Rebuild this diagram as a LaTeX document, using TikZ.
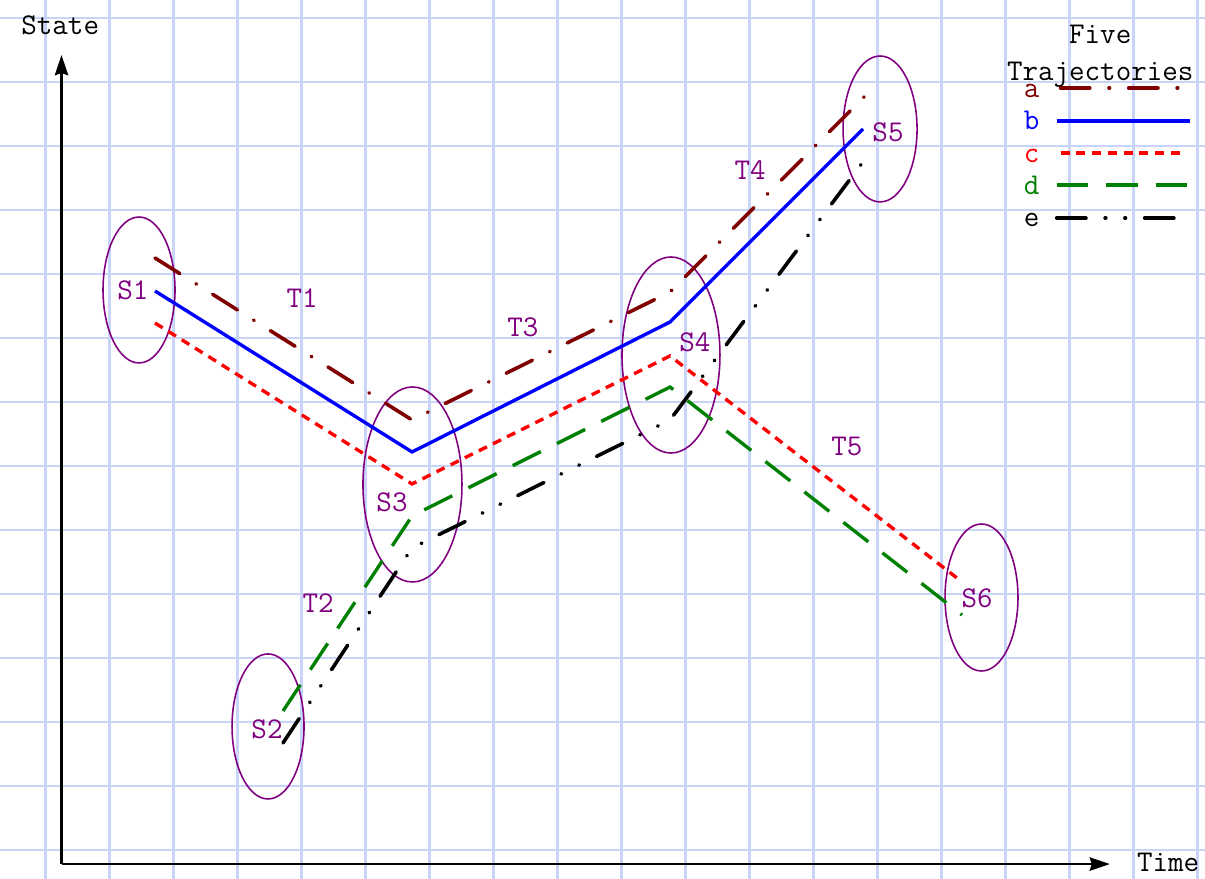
\documentclass[tikz,border=0pt]{standalone}
\usetikzlibrary{arrows.meta,shapes.geometric}
\definecolor{gridblue}{RGB}{200,212,248}
\definecolor{trajred}{RGB}{128,0,0}
\definecolor{trajblue}{RGB}{0,0,255}
\definecolor{trajlight}{RGB}{255,0,0}
\definecolor{trajgreen}{RGB}{0,128,0}
\definecolor{statepurple}{RGB}{128,0,128}
\tikzset{
  txt/.style={font=\fontsize{13.4}{16.4}\selectfont\ttfamily},
  axis/.style={line width=0.9pt,-{Stealth[length=9pt,width=6pt,inset=1pt]}},
  stateoval/.style={ellipse,draw=statepurple,line width=0.7pt,inner sep=0pt},
  statelabel/.style={txt,text=statepurple,inner sep=1pt},
  traja/.style={trajred,line width=1.6pt,line cap=round,dash pattern=on 13pt off 8.5pt on 0.3pt off 8.5pt},
  trajb/.style={trajblue,line width=1.5pt},
  trajc/.style={trajlight,line width=1.5pt,dash pattern=on 4pt off 3pt},
  trajd/.style={trajgreen,line width=1.5pt,dash pattern=on 14pt off 8pt},
  traje/.style={black,line width=1.6pt,line cap=round,dash pattern=on 13pt off 8.5pt on 0.3pt off 8.5pt on 0.3pt off 8.5pt},
}
\newcommand{\statearea}[7]{%
  \node[stateoval,minimum width=#4cm,minimum height=#5cm] (#1) at (#2,#3) {};
  \node[statelabel] (#1lbl) at (#6,#7) {#1};%
}

\begin{document}
\begin{tikzpicture}[x=1cm,y=1cm]
  \fill[white] (-0.711,-0.453) rectangle (18.117,13.281);
  \useasboundingbox (-0.711,-0.453) rectangle (18.117,13.281);
  \draw[gridblue,line width=1pt] (-0.711,-0.453) grid (18.117,13.281);

  % axes
  \coordinate (O) at (0.25,-0.22);
  \coordinate (ytip) at (0.25,12.42);
  \coordinate (xtip) at (16.63,-0.22);
  \draw[axis] (O) -- (ytip);
  \draw[axis] (O) -- (xtip);
  \node[txt] (state) at (0.23,12.89) {State};
  \node[txt] (time) at (17.54,-0.2) {Time};

  % states
  \statearea{S1}{1.461}{8.75}{1.125}{2.28}{1.367}{8.75}
  \statearea{S2}{3.477}{1.93}{1.125}{2.266}{3.461}{1.89}
  \statearea{S3}{5.734}{5.711}{1.547}{3.047}{5.414}{5.44}
  \statearea{S4}{9.773}{7.734}{1.531}{3.063}{10.148}{7.94}
  \statearea{S5}{13.04}{11.266}{1.156}{2.28}{13.164}{11.22}
  \statearea{S6}{14.625}{3.945}{1.14}{2.297}{14.555}{3.94}

  % transitions
  \foreach \t/\x/\y in {T1/4.01/8.63, T2/4.26/3.86, T3/7.46/8.17, T4/11.01/10.63, T5/12.52/6.30}
    \node[statelabel] (\t) at (\x,\y) {\t};

  % trajectories
  \draw[traja] (1.711,9.25) -- (5.727,6.719) -- (9.758,8.719) -- (12.82,11.797);
  \draw[trajb] (1.711,8.734) -- (5.727,6.219) -- (9.758,8.25) -- (12.773,11.266);
  \draw[trajc] (1.711,8.234) -- (5.727,5.719) -- (9.758,7.719) -- (14.242,4.25);
  \draw[trajd] (3.711,2.172) -- (5.727,5.219) -- (9.758,7.234) -- (14.32,3.672);
  \draw[traje] (3.711,1.672) -- (5.727,4.719) -- (9.758,6.719) -- (12.773,10.75);

  % legend
  \node[txt,align=center] (title) at (16.48,12.40) {Five\\Trajectories};
  \node[txt,text=trajred,anchor=base] (la) at (15.41,11.75) {a};
  \node[txt,text=trajblue,anchor=base] (lb) at (15.41,11.25) {b};
  \node[txt,text=trajlight,anchor=base] (lc) at (15.41,10.74) {c};
  \node[txt,text=trajgreen,anchor=base] (ld) at (15.41,10.24) {d};
  \node[txt,anchor=base] (le) at (15.41,9.74) {e};
  \draw[traja] (15.86,11.906) -- (17.88,11.906);
  \draw[trajb] (15.80,11.39) -- (17.88,11.39);
  \draw[trajc] (15.86,10.89) -- (17.73,10.89);
  \draw[trajd] (15.80,10.39) -- (17.88,10.39);
  \draw[traje] (15.80,9.875) -- (17.88,9.875);
\end{tikzpicture}
\end{document}
